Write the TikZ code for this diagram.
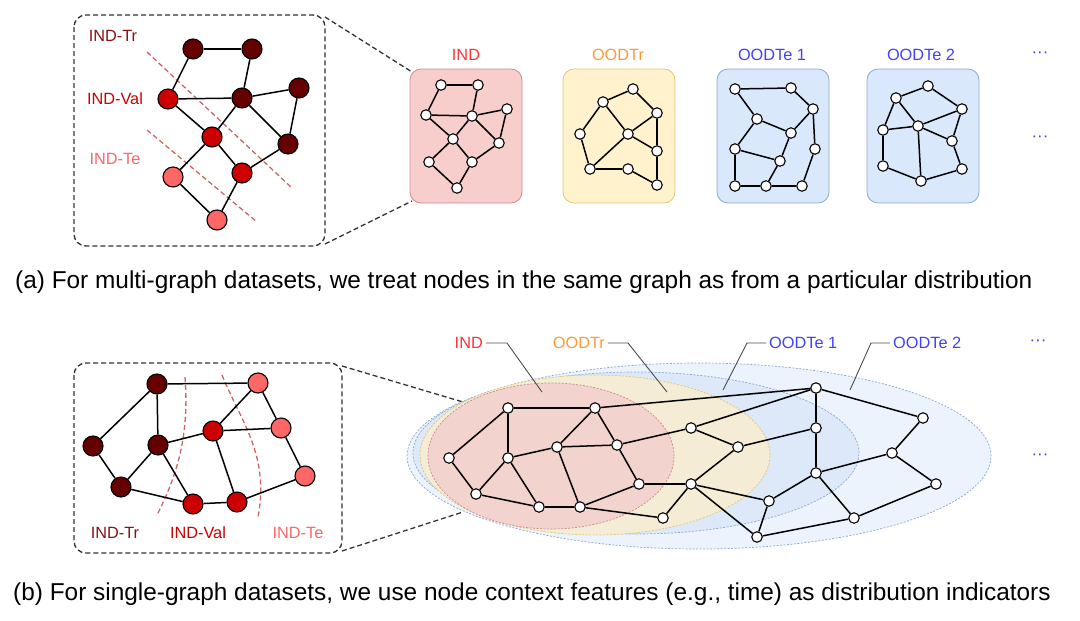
\documentclass[tikz,border=0pt]{standalone}
\usepackage{fontspec}
\setmainfont{Liberation Sans}
\usetikzlibrary{backgrounds,shapes.geometric}
\definecolor{dkred}{HTML}{660000}
\definecolor{mdred}{HTML}{CC0000}
\definecolor{ltred}{HTML}{FF6666}
\definecolor{lbTr}{HTML}{8B1010}
\definecolor{lbVal}{HTML}{CC0000}
\definecolor{lbTe}{HTML}{FF6666}
\definecolor{cutc}{HTML}{CC6666}
\definecolor{indfill}{HTML}{F8CECC}
\definecolor{inddraw}{HTML}{D08A88}
\definecolor{trfill}{HTML}{FFF2CC}
\definecolor{trdraw}{HTML}{E0C878}
\definecolor{tefill}{HTML}{DAE8FC}
\definecolor{tedraw}{HTML}{8CA8D0}
\definecolor{indtxt}{HTML}{FF3333}
\definecolor{trtxt}{HTML}{FF9933}
\definecolor{tetxt}{HTML}{4040FF}
\definecolor{eTwo}{HTML}{EDF3FC}
\definecolor{eOne}{HTML}{DDE8F8}
\definecolor{eTr}{HTML}{F4ECD4}
\definecolor{eInd}{HTML}{F3D3CE}
\tikzset{
  big/.style={circle,draw=black,line width=1.1pt,minimum size=20pt,inner sep=0pt},
  sm/.style={circle,draw=black,fill=white,line width=1.1pt,minimum size=10.5pt,inner sep=0pt},
  edge/.style={line width=1.5pt,black},
  frame/.style={draw=black!80,dashed,line width=1.3pt,dash pattern=on 5pt off 3pt,rounded corners=12pt},
  zoomline/.style={draw=black!80,line width=1.3pt,dash pattern=on 5pt off 3pt},
  cut/.style={draw=cutc,line width=1.3pt,dash pattern=on 5pt off 3pt},
  dbox/.style={rounded corners=11pt,line width=0.8pt},
  lab/.style={font=\fontsize{16.3}{18}\selectfont,inner sep=0pt},
  dotlab/.style={font=\fontsize{17}{18}\selectfont,inner sep=0pt,text=tetxt},
  captxt/.style={font=\fontsize{24.4}{28}\selectfont,inner sep=0pt,anchor=base west},
  leader/.style={draw=black!70,line width=0.9pt},
  ell/.style={line width=0.7pt,dash pattern=on 2pt off 1.5pt}
}
\begin{document}
\begin{tikzpicture}[x=1pt,y=-1pt]
\useasboundingbox (0,0) rectangle (1080,621);
% ---------- (a) top-left zoom box ----------
\draw[frame] (74,15) rectangle (325,246);
\coordinate (fa1) at (325,17);
\coordinate (fa2) at (325,244);
\coordinate (ia1) at (412,72);
\coordinate (ia2) at (412,201);
\draw[zoomline] (fa1) -- (ia1);
\draw[zoomline] (fa2) -- (ia2);
\coordinate (ca1) at (147,52); \coordinate (ca2) at (292,188);
\coordinate (cb1) at (147,130); \coordinate (cb2) at (257,222);
\draw[cut] (ca1) -- (ca2);
\draw[cut] (cb1) -- (cb2);
\node[lab,text=lbTr] (ltr) at (113,36) {IND-Tr};
\node[lab,text=lbVal] (lval) at (115,99) {IND-Val};
\node[lab,text=lbTe] (lte) at (115,159) {IND-Te};
\node[big,fill=dkred] (A1) at (193,49) {};
\node[big,fill=dkred] (A2) at (252,49) {};
\node[big,fill=mdred] (A3) at (168,99) {};
\node[big,fill=dkred] (A4) at (242,98) {};
\node[big,fill=dkred] (A5) at (299,88) {};
\node[big,fill=mdred] (A6) at (212,137) {};
\node[big,fill=dkred] (A7) at (288,144) {};
\node[big,fill=ltred] (A8) at (173,177) {};
\node[big,fill=mdred] (A9) at (242,173) {};
\node[big,fill=ltred] (A10) at (217,220) {};
\foreach \a/\b in {A1/A2,A1/A3,A2/A4,A3/A4,A4/A5,A5/A7,A3/A6,A6/A4,A4/A7,A6/A8,A6/A9,A9/A7,A8/A10,A9/A10}
  \draw[edge] (\a) -- (\b);
% ---------- (a) four graph boxes ----------
\node[dbox,draw=inddraw,fill=indfill,minimum width=112pt,minimum height=134pt] (bind) at (466,136) {};
\node[dbox,draw=trdraw,fill=trfill,minimum width=112pt,minimum height=134pt] (btr) at (619,136) {};
\node[dbox,draw=tedraw,fill=tefill,minimum width=112pt,minimum height=134pt] (bte1) at (773,136) {};
\node[dbox,draw=tedraw,fill=tefill,minimum width=112pt,minimum height=134pt] (bte2) at (923,136) {};
\node[lab,text=indtxt] (tind) at (466,55) {IND};
\node[lab,text=trtxt] (ttr) at (618,55) {OODTr};
\node[lab,text=tetxt] (tte1) at (772,55) {OODTe 1};
\node[lab,text=tetxt] (tte2) at (921,55) {OODTe 2};
\node[dotlab] (dots1) at (1040,55) {···};
\node[dotlab] (dots2) at (1040,139) {···};
% IND graph
\node[sm] (B1) at (441,85) {};
\node[sm] (B2) at (478,85) {};
\node[sm] (B3) at (426,115) {};
\node[sm] (B4) at (472,116) {};
\node[sm] (B5) at (507,109) {};
\node[sm] (B6) at (453,139) {};
\node[sm] (B7) at (499,143) {};
\node[sm] (B8) at (429,162) {};
\node[sm] (B9) at (472,162) {};
\node[sm] (B10) at (457,188) {};
\foreach \a/\b in {B1/B2,B1/B3,B2/B4,B3/B4,B4/B5,B5/B7,B3/B6,B6/B4,B4/B7,B6/B8,B6/B9,B9/B7,B8/B10,B9/B10}
  \draw[edge] (\a) -- (\b);
% OODTr graph
\node[sm] (C1) at (633,89) {};
\node[sm] (C2) at (603,102) {};
\node[sm] (C3) at (657,113) {};
\node[sm] (C4) at (580,134) {};
\node[sm] (C5) at (628,134) {};
\node[sm] (C6) at (657,151) {};
\node[sm] (C7) at (590,169) {};
\node[sm] (C8) at (628,169) {};
\node[sm] (C9) at (657,185) {};
\foreach \a/\b in {C2/C1,C1/C3,C2/C4,C2/C5,C5/C3,C3/C6,C5/C6,C4/C7,C7/C5,C7/C8,C8/C9,C6/C9}
  \draw[edge] (\a) -- (\b);
% OODTe1 graph
\node[sm] (D1) at (735,89) {};
\node[sm] (D2) at (791,88) {};
\node[sm] (D3) at (813,109) {};
\node[sm] (D4) at (757,119) {};
\node[sm] (D5) at (791,133) {};
\node[sm] (D6) at (735,149) {};
\node[sm] (D7) at (815,149) {};
\node[sm] (D8) at (780,161) {};
\node[sm] (D9) at (735,186) {};
\node[sm] (D10) at (766,186) {};
\node[sm] (D11) at (802,186) {};
\foreach \a/\b in {D1/D2,D2/D3,D1/D4,D4/D5,D5/D3,D4/D6,D5/D8,D6/D8,D6/D9,D9/D10,D10/D11,D10/D8,D3/D7,D7/D11}
  \draw[edge] (\a) -- (\b);
% OODTe2 graph
\node[sm] (E1) at (928,86) {};
\node[sm] (E2) at (896,98) {};
\node[sm] (E3) at (962,109) {};
\node[sm] (E4) at (883,130) {};
\node[sm] (E5) at (918,126) {};
\node[sm] (E6) at (952,141) {};
\node[sm] (E7) at (883,166) {};
\node[sm] (E8) at (921,181) {};
\node[sm] (E9) at (962,169) {};
\foreach \a/\b in {E2/E1,E1/E3,E2/E4,E2/E5,E4/E5,E5/E3,E5/E6,E3/E6,E4/E7,E5/E8,E7/E8,E8/E9,E6/E9}
  \draw[edge] (\a) -- (\b);
\node[captxt] (capa) at (15,288) {(a) For multi-graph datasets, we treat nodes in the same graph as from a particular distribution};
% ---------- (b) bottom-left zoom box ----------
\draw[frame] (74,363) rectangle (342,553);
\coordinate (fb1) at (342,366);
\coordinate (fb2) at (342,551);
\coordinate (ib1) at (463,402);
\coordinate (ib2) at (463,512);
\draw[zoomline] (fb1) -- (ib1);
\draw[zoomline] (fb2) -- (ib2);
\coordinate (p1) at (185,377); \coordinate (p2) at (157,515);
\coordinate (q1) at (222,375); \coordinate (q2) at (258,517);
\draw[cut] (p1) .. controls (189,430) and (180,470) .. (p2);
\draw[cut] (q1) .. controls (240,420) and (270,455) .. (q2);
\node[big,fill=dkred] (F1) at (157,384) {};
\node[big,fill=ltred] (F2) at (258,383) {};
\node[big,fill=dkred] (F3) at (93,446) {};
\node[big,fill=dkred] (F4) at (158,445) {};
\node[big,fill=mdred] (F5) at (213,431) {};
\node[big,fill=ltred] (F6) at (281,428) {};
\node[big,fill=dkred] (F7) at (121,487) {};
\node[big,fill=ltred] (F8) at (305,476) {};
\node[big,fill=mdred] (F9) at (193,504) {};
\node[big,fill=mdred] (F10) at (237,502) {};
\foreach \a/\b in {F1/F2,F1/F3,F1/F4,F3/F7,F4/F7,F4/F5,F4/F9,F7/F9,F5/F6,F5/F2,F2/F6,F6/F8,F5/F10,F9/F10,F10/F8}
  \draw[edge] (\a) -- (\b);
\node[lab,text=lbTr] (btr2) at (115,533) {IND-Tr};
\node[lab,text=lbVal] (bval) at (198,533) {IND-Val};
\node[lab,text=lbTe] (bte) at (298,533) {IND-Te};
% ellipses
\node[ell,ellipse,draw=tedraw,fill=eTwo,minimum width=584pt,minimum height=186pt,inner sep=0pt] (elTwo) at (699,456) {};
\node[ell,ellipse,draw=tedraw,fill=eOne,minimum width=446pt,minimum height=162pt,inner sep=0pt] (elOne) at (636,453) {};
\node[ell,ellipse,draw=trdraw,fill=eTr,minimum width=350pt,minimum height=160pt,inner sep=0pt] (elTr) at (595,455) {};
\node[ell,ellipse,draw=inddraw,fill=eInd,minimum width=246pt,minimum height=146pt,inner sep=0pt] (elInd) at (551,456) {};
% bottom graph
\node[sm] (G1) at (449,458) {};
\node[sm] (G2) at (508,408) {};
\node[sm] (G3) at (595,408) {};
\node[sm] (G4) at (508,458) {};
\node[sm] (G5) at (557,447) {};
\node[sm] (G6) at (617,445) {};
\node[sm] (G7) at (476,494) {};
\node[sm] (G8) at (539,507) {};
\node[sm] (G9) at (580,507) {};
\node[sm] (G10) at (639,484) {};
\node[sm] (G11) at (691,428) {};
\node[sm] (G12) at (738,447) {};
\node[sm] (G13) at (691,484) {};
\node[sm] (G14) at (663,518) {};
\node[sm] (H1) at (816,388) {};
\node[sm] (H2) at (816,428) {};
\node[sm] (H4) at (816,473) {};
\node[sm] (H5) at (923,418) {};
\node[sm] (H6) at (892,453) {};
\node[sm] (H7) at (936,484) {};
\node[sm] (H8) at (769,501) {};
\node[sm] (H9) at (757,537) {};
\node[sm] (H10) at (854,518) {};
\foreach \a/\b in {G1/G2,G2/G3,G2/G4,G1/G7,G4/G7,G4/G5,G4/G8,G7/G8,G8/G9,G5/G3,G5/G6,G3/G6,G5/G9,G6/G10,G9/G10,G9/G14,G10/G13,G14/G13,G3/H1,G6/G11,G11/G12,G11/H1,G12/G13,G12/H2,G13/H8,G13/H9,H1/H2,H2/H4,H4/H8,H8/H9,H4/H10,H9/H10,H4/H6,H6/H5,H1/H5,H6/H7,H7/H10}
  \draw[edge] (\a) -- (\b);
% labels with leaders
\node[lab,text=indtxt,anchor=east] (lind) at (483,343) {IND};
\node[lab,text=trtxt,anchor=east] (ltr3) at (605,343) {OODTr};
\node[lab,text=tetxt,anchor=west] (lte1) at (769,343) {OODTe 1};
\node[lab,text=tetxt,anchor=west] (lte2) at (893,343) {OODTe 2};
\coordinate (kind) at (542,392);
\coordinate (ktr) at (667,392);
\coordinate (kte1) at (723,390);
\coordinate (kte2) at (850,390);
\draw[leader] (lind.east) ++(3,0) -- ++(21,0) -- (kind);
\draw[leader] (ltr3.east) ++(3,0) -- ++(20,0) -- (ktr);
\draw[leader] (lte1.west) ++(-3,0) -- ++(-19,0) -- (kte1);
\draw[leader] (lte2.west) ++(-3,0) -- ++(-19,0) -- (kte2);
\node[dotlab] (dots3) at (1038,343) {···};
\node[dotlab] (dots4) at (1040,457) {···};
\node[captxt] (capb) at (13,600) {(b) For single-graph datasets, we use node context features (e.g., time) as distribution indicators};
\end{tikzpicture}
\end{document}
